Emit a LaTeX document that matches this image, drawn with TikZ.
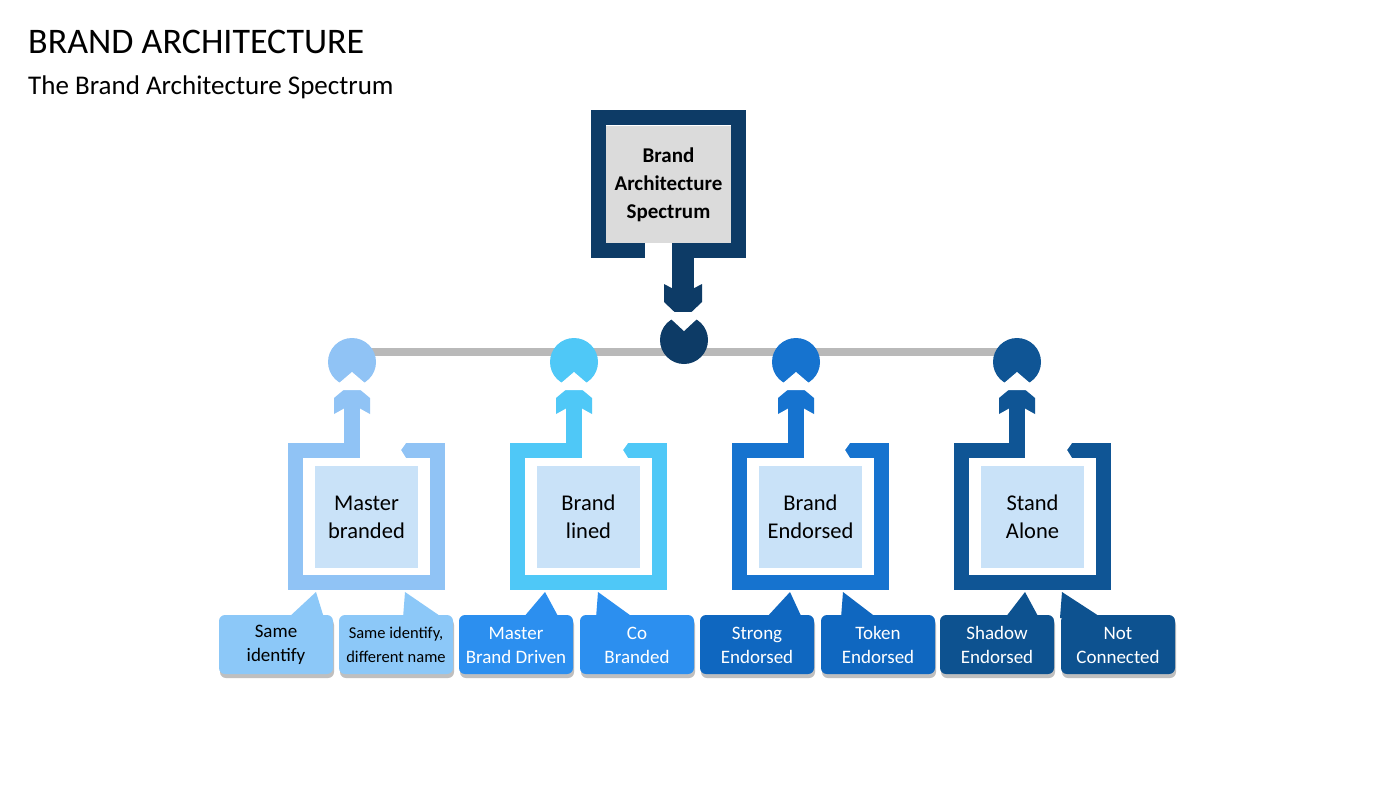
\documentclass[tikz,border=0pt]{standalone}
\usepackage{fontspec}
\setmainfont{Carlito}
\begin{document}
\begin{tikzpicture}[x=1pt,y=-1pt,
  lbl/.style={font=\fontsize{22.5}{28}\selectfont,align=center,text=black},
  cl/.style={font=\fontsize{19}{24}\selectfont,align=center},
  ]
\definecolor{c1}{HTML}{90C3F5}\definecolor{c2}{HTML}{4FC8F7}
\definecolor{c3}{HTML}{1673CF}\definecolor{c4}{HTML}{0F5595}
\definecolor{k1}{HTML}{8CC8F8}\definecolor{k2}{HTML}{2C8FEF}
\definecolor{k3}{HTML}{0F67C0}\definecolor{k4}{HTML}{0D5290}
\definecolor{ink}{HTML}{C9E2F8}\definecolor{topc}{HTML}{0D3B66}
\useasboundingbox (0,0) rectangle (1400,788);
\fill[white] (0,0) rectangle (1400,788);
\node[anchor=west,font=\fontsize{36}{40}\selectfont,inner sep=0] (title) at (28,42) {BRAND ARCHITECTURE};
\node[anchor=west,font=\fontsize{27}{32}\selectfont,inner sep=0] (sub) at (28,87) {The Brand Architecture Spectrum};
% horizontal line
\coordinate (hl) at (352,352); \coordinate (hr) at (1017,352);
\draw[line width=8pt,color=gray!55] (hl) -- (hr);
% top box
\draw[topc,line width=15pt] (652,250.5) -- (598.5,250.5) -- (598.5,117.5) -- (738.5,117.5) -- (738.5,250.5) -- (672,250.5);
\fill[white] (645,243) -- (660,243) -- (652,250.5) -- (660,258) -- (645,258) -- cycle;
\node[fill=gray!28,minimum width=125pt,minimum height=117pt,font=\bfseries\fontsize{21}{28}\selectfont,align=center] (top) at (668.5,184.5) {Brand\\Architecture\\Spectrum};
\fill[topc] (672,243) rectangle (694,300);
\fill[topc] (664,284) -- (683,294) -- (702,284) -- (702,302) -- (683,320) -- (664,302) -- cycle;
\fill[topc] (684,340) circle (24);
\fill[white] (670,318) -- (684,331) -- (698,318) -- (698,312) -- (670,312) -- cycle;
\node[circle,minimum size=48pt,inner sep=0] (hub) at (684,340) {};
% lower boxes
\foreach \i/\bx/\cx/\fc/\txt in {1/288/352/c1/{Master\\branded},2/510/574/c2/{Brand\\lined},3/732/796/c3/{Brand\\Endorsed},4/954/1017/c4/{Stand\\Alone}}{
  \draw[\fc,line width=15pt] (\bx+63,450.5) -- (\bx+7.5,450.5) -- (\bx+7.5,582.5) -- (\bx+149.5,582.5) -- (\bx+149.5,450.5) -- (\bx+108,450.5);
  \fill[white] (\bx+108,443) -- (\bx+118,443) -- (\bx+113,450) -- (\bx+118,458) -- (\bx+108,458) -- cycle;
  \fill[ink] (\bx+27,466) rectangle (\bx+130,568);
  \node[lbl] (b\i) at (\bx+78.5,517) {\txt};
  \fill[\fc] (\cx-8,458) rectangle (\cx+8,396);
  \fill[\fc] (\cx-18,414) -- (\cx,404) -- (\cx+18,414) -- (\cx+18,398) -- (\cx,383) -- (\cx-18,398) -- cycle;
  \fill[\fc] (\cx,362) circle (24);
  \fill[white] (\cx-14,384) -- (\cx,372) -- (\cx+14,384) -- (\cx+14,390) -- (\cx-14,390) -- cycle;
  \node[circle,minimum size=48pt,inner sep=0] (n\i) at (\cx,362) {};
}
% callouts
\foreach \j/\x/\fc/\tc/\tx/\tip/\ba/\bb in {1/219/k1/black/{Same\\identify}/316/-28/8,2/339/k1/black/{\fontsize{16.5}{22}\selectfont Same identify,\\\fontsize{16.5}{22}\selectfont different name}/405/-2/38,3/459/k2/white/{Master\\Brand Driven}/545/-22/14,4/580/k2/white/{Co\\Branded}/598/-2/36,5/700/k3/white/{Strong\\Endorsed}/790/-24/12,6/821/k3/white/{Token\\Endorsed}/843/-2/34,7/940/k4/white/{Shadow\\Endorsed}/1025/-20/14,8/1061/k4/white/{Not\\Connected}/1062/-2/40}{
  \fill[black!25,rounded corners=6pt] (\x+1,619) rectangle (\x+115,678);
  \fill[\fc] (\tip,592) -- (\tip+\bb,618) -- (\tip+\ba,618) -- cycle;
  \fill[\fc,rounded corners=6pt] (\x,615) rectangle (\x+114,674);
  \node[cl,text=\tc] (k\j) at (\x+57,645) {\tx};
}
\end{tikzpicture}
\end{document}
